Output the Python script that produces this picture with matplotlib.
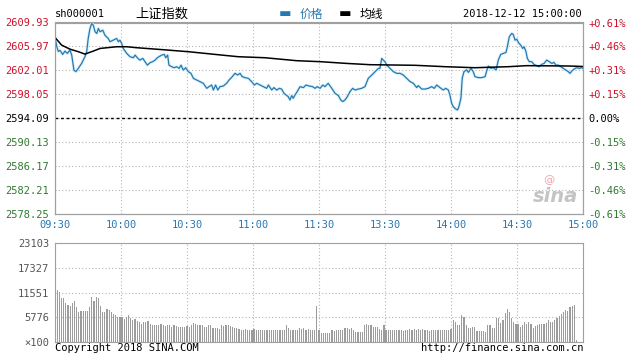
import matplotlib
matplotlib.use('Agg')
import matplotlib.pyplot as plt
import numpy as np

plt.rcParams['font.family'] = ['DejaVu Sans Mono', 'Noto Sans CJK SC']

# 分时价格 (横轴为开盘后的交易分钟数)
price_t = [0, 0.9, 1.5, 2.3, 3.5, 4.5, 5.6, 6.8, 7.6, 8.6,
           9.5, 10.6, 12.1, 13.6, 14.4, 15.1, 15.9, 16.7, 17.4, 18.2,
           19.0, 19.7, 20.5, 21.7, 22.7, 24.2, 25.0, 26.5, 28.0, 28.8,
           29.5, 30.3, 31.0, 32.6, 34.1, 35.6, 36.4, 37.4, 38.6, 39.9,
           40.9, 42.0, 43.2, 44.4, 45.5, 46.5, 48.5, 49.7, 50.3, 51.2,
           51.8, 53.0, 54.2, 55.3, 56.4, 57.3, 58.3, 59.4, 60.6, 61.8,
           62.9, 64.4, 65.9, 67.4, 69.0, 70.0, 71.2, 72.0, 73.0, 74.0,
           75.0, 76.5, 78.0, 79.1, 80.6, 81.8, 83.0, 84.1, 85.1, 86.4,
           87.9, 89.4, 90.6, 91.7, 93.2, 94.7, 96.2, 97.0, 98.5, 99.5,
           100.8, 102.0, 103.0, 104.1, 105.0, 106.0, 106.8, 107.6, 108.3, 109.1,
           110.1, 111.4, 112.9, 114.1, 115.6, 117.1, 118.2, 119.2, 120.5, 121.7,
           122.7, 124.2, 125.8, 127.3, 128.8, 129.9, 130.8, 131.8, 132.9, 134.1,
           135.3, 136.4, 137.9, 139.4, 140.9, 142.4, 144.0, 145.5, 147.0, 147.7,
           148.5, 149.2, 150.0, 150.8, 152.3, 153.8, 155.3, 156.8, 158.3, 159.9,
           161.4, 162.9, 164.4, 165.1, 166.7, 168.2, 169.7, 171.2, 172.4, 173.5,
           175.0, 176.5, 177.6, 178.8, 179.5, 180.3, 181.0, 182.1, 183.0, 183.6,
           184.5, 185.1, 185.9, 187.1, 187.9, 189.1, 190.1, 190.9, 192.4, 194.0,
           195.5, 196.2, 197.0, 198.0, 199.2, 200.5, 201.5, 202.6, 203.8, 205.0,
           205.6, 206.5, 207.6, 208.3, 209.1, 209.9, 210.6, 211.7, 212.6, 213.2,
           214.1, 214.7, 215.6, 216.7, 217.7, 219.0, 220.0, 221.2, 222.3, 223.5,
           224.7, 225.8, 226.8, 227.7, 228.8, 229.9, 231.0, 232.3, 233.3, 234.1,
           234.9, 235.9, 237.1, 238.3, 239.4, 240.0]
price_v = [2607.46, 2605.81, 2605.15, 2605.31, 2604.65, 2605.20, 2604.82, 2605.36, 2604.54, 2602.06,
           2601.80, 2602.34, 2603.16, 2604.27, 2605.10, 2607.29, 2608.94, 2609.77, 2609.48, 2608.40,
           2608.12, 2608.94, 2608.40, 2608.66, 2607.83, 2607.29, 2606.75, 2607.01, 2607.29, 2606.75,
           2607.01, 2606.47, 2605.64, 2604.82, 2604.27, 2604.10, 2604.54, 2604.10, 2603.71, 2603.99,
           2603.45, 2602.88, 2603.28, 2603.45, 2603.71, 2604.10, 2604.54, 2604.65, 2604.10, 2604.54,
           2602.88, 2602.62, 2602.45, 2602.62, 2602.34, 2602.88, 2602.06, 2602.45, 2601.80, 2601.52,
           2600.69, 2600.41, 2600.15, 2599.87, 2599.04, 2599.32, 2599.59, 2598.76, 2599.59, 2598.76,
           2599.32, 2599.42, 2599.87, 2600.41, 2600.97, 2601.52, 2601.24, 2601.52, 2600.97, 2600.81,
           2600.69, 2600.15, 2599.59, 2599.87, 2599.59, 2599.32, 2599.04, 2599.59, 2598.76, 2599.16,
           2598.76, 2599.04, 2598.92, 2598.21, 2597.94, 2597.67, 2597.11, 2597.84, 2597.39, 2597.94,
           2598.50, 2599.32, 2599.16, 2599.59, 2599.42, 2599.32, 2599.04, 2599.32, 2599.04, 2599.59,
           2599.32, 2599.87, 2599.04, 2598.21, 2597.84, 2597.11, 2596.85, 2597.11, 2597.67, 2598.50,
           2599.04, 2598.76, 2598.92, 2599.04, 2599.32, 2600.69, 2601.24, 2601.80, 2602.34, 2602.34,
           2603.99, 2603.71, 2603.45, 2602.88, 2602.34, 2601.80, 2601.52, 2601.52, 2601.24, 2600.69,
           2600.15, 2599.87, 2599.16, 2599.49, 2598.92, 2598.92, 2599.04, 2599.32, 2599.04, 2599.59,
           2599.16, 2598.76, 2599.04, 2598.76, 2597.94, 2596.57, 2596.02, 2595.63, 2595.46, 2596.02,
           2597.39, 2600.69, 2601.80, 2602.10, 2601.68, 2602.34, 2601.80, 2600.97, 2600.81, 2600.81,
           2600.97, 2601.90, 2602.72, 2602.34, 2602.45, 2602.06, 2603.71, 2604.65, 2604.81, 2604.98,
           2605.92, 2607.57, 2608.12, 2607.95, 2607.01, 2607.17, 2606.63, 2606.18, 2605.64, 2605.92,
           2605.10, 2603.99, 2603.45, 2603.45, 2603.00, 2602.79, 2602.62, 2603.00, 2603.16, 2603.71,
           2603.45, 2603.16, 2603.33, 2602.88, 2602.88, 2602.62, 2602.34, 2602.06, 2601.80, 2601.52,
           2601.90, 2602.22, 2602.45, 2602.34, 2602.45, 2602.34]

# 均线
avg_t = [0, 3.0, 6.8, 10.6, 13.6, 17.4, 20.5, 28.0, 32.6, 37.1, 47.7, 60.6, 75.8, 83.3,
         95.5, 109.9, 120.5, 132.6, 143.2, 163.6, 177.3, 190.9, 206.1, 214.4, 234.1, 240.0]
avg_v = [2607.46, 2606.19, 2605.52, 2605.10, 2604.70, 2605.20, 2605.64, 2605.92, 2605.92,
         2605.76, 2605.47, 2605.10, 2604.54, 2604.27, 2604.10, 2603.61, 2603.45, 2603.16,
         2602.95, 2602.85, 2602.62, 2602.45, 2602.62, 2602.79, 2602.73, 2602.65]

# 成交量 (x100), 每分钟一根
volume = [12200, 11700, 10200, 10200, 9200, 8600, 8500, 9100, 9600, 8100,
          7100, 7300, 7300, 7200, 7300, 8100, 10400, 9600, 10600, 10200,
          8500, 6900, 7100, 7700, 7500, 6900, 6500, 6200, 5900, 5800,
          5800, 5400, 5800, 6200, 5500, 5200, 5400, 5000, 4600, 4200,
          4600, 4600, 5000, 4200, 4000, 4000, 3900, 4000, 4200, 3900,
          3700, 3900, 3900, 3600, 3900, 3700, 3600, 3500, 3600, 3600,
          3700, 3500, 4000, 4500, 4200, 3900, 4000, 3900, 3600, 3500,
          3900, 3900, 3200, 3200, 3200, 3100,
          3900, 3700, 4000, 3900, 3800,
          3500, 3300, 3200, 3100, 2900, 2800, 3000, 2700, 2900, 2800,
          3100, 2800, 2800, 2900, 2700, 2800, 2900, 2800, 2700, 2900,
          2800, 2700, 2900, 2800, 2900, 3900, 3300, 2800, 2700, 2900,
          2800, 3300, 3100, 3200, 2900, 3000, 2800, 2700, 2900,
          8400,
          2700, 2100, 2000, 2100, 2000, 2100, 2700, 2600, 2700, 2800,
          2700, 2800, 3200, 3300, 3100, 3200, 2700, 2400, 2300, 2400,
          2300, 4000, 4100, 4000, 3900, 3500, 3400, 3600, 3000, 2900,
          3900, 2900, 2800, 2700, 2800, 2700, 2800, 2700, 2800, 2600,
          2800, 2700, 3000, 2800, 3100, 2900, 3000, 2800, 3000, 2900,
          2800, 2600, 2800, 2700, 2800, 2900, 2700, 2800, 2900, 2800,
          2900, 3000, 5200, 4700, 4000, 3900, 6300, 5900, 3900, 3300,
          3200, 3500, 3500, 2600, 2500, 2600, 2500, 2400, 3900, 3900,
          3300, 3200, 5700, 5700, 4500, 5100, 6800, 7800, 7000, 5700,
          4700, 4100, 4300, 3500, 3900, 4700, 4300, 4700, 4100, 3300,
          3800, 3900, 4100, 4100, 4300, 4500, 5100, 4700, 4700, 5100,
          5700, 6000, 6600, 7000, 7400, 7200, 8200, 8400, 8600, 400]

y_ticks = [2609.93, 2605.97, 2602.01, 2598.05, 2594.09, 2590.13, 2586.17, 2582.21, 2578.25]
pct_labels = ['+0.61%', '+0.46%', '+0.31%', '+0.15%', '0.00%',
              '-0.15%', '-0.31%', '-0.46%', '-0.61%']
x_ticks = [0, 30, 60, 90, 120, 150, 180, 210, 240]
x_labels = ['09:30', '10:00', '10:30', '11:00', '11:30', '13:30', '14:00', '14:30', '15:00']
vol_ticks = [0, 5776, 11551, 17327, 23103]
vol_labels = ['×100', '5776', '11551', '17327', '23103']

RED = '#d0102a'
GREEN = '#2f7a2f'
BLUE = '#2878b0'
GRID = '#b5b5b5'
SPINE = '#a0a0a0'

W, H = 633, 355
fig = plt.figure(figsize=(W / 100, H / 100), dpi=100)
fig.patch.set_facecolor('white')


def box(l, t, r, b):
    return [l / W, 1 - b / H, (r - l) / W, (b - t) / H]


# ---- 价格图 ----
ax = fig.add_axes(box(55, 22.5, 583, 214))
ax.set_xlim(0, 240)
ax.set_ylim(y_ticks[-1], y_ticks[0])
ax.plot(price_t, price_v, color='#d8f1fa', lw=2.2, solid_joinstyle='round', zorder=3)
ax.plot(price_t, price_v, color=BLUE, lw=0.9, zorder=4)
ax.plot(avg_t, avg_v, color='black', lw=1.1, zorder=5)

ax.set_yticks(y_ticks)
ax.set_yticklabels(['%.2f' % v for v in y_ticks], fontsize=7.5)
for lab, v in zip(ax.get_yticklabels(), y_ticks):
    lab.set_color(RED if v > 2594.09 else ('black' if v == 2594.09 else GREEN))
ax.set_xticks(x_ticks)
ax.set_xticklabels(x_labels, fontsize=7.5, color=BLUE)
ax.tick_params(length=0, pad=4)
ax.grid(True, color=GRID, linestyle=(0, (1, 2)), lw=0.8)
ax.axhline(2594.09, color='black', lw=1.0, linestyle=(0, (2, 2)), zorder=2)
for s in ax.spines.values():
    s.set_color(SPINE)

ax2 = ax.twinx()
ax2.set_ylim(ax.get_ylim())
ax2.set_yticks(y_ticks)
ax2.set_yticklabels(pct_labels, fontsize=7.5)
for lab, v in zip(ax2.get_yticklabels(), y_ticks):
    lab.set_color(RED if v > 2594.09 else ('black' if v == 2594.09 else GREEN))
ax2.tick_params(length=0, pad=4)
for s in ax2.spines.values():
    s.set_color(SPINE)

# 水印
ax.text(0.99, 0.04, 'sina', transform=ax.transAxes, ha='right', va='bottom',
        fontsize=14, style='italic', fontweight='bold', color='#c4c4c4',
        family='DejaVu Sans', zorder=1)
ax.text(0.935, 0.15, '@', transform=ax.transAxes, ha='center', va='bottom',
        fontsize=8, color='#f2a0a8', family='DejaVu Sans', zorder=1)

# ---- 成交量 ----
axv = fig.add_axes(box(55, 243, 583, 342))
axv.bar(np.arange(len(volume)), volume, width=0.55, color='#9c9c9c', linewidth=0)
axv.set_xlim(-1, 243)
axv.set_ylim(0, 23103)
axv.set_xticks(np.linspace(-1, 243, 9))
axv.set_xticklabels([])
axv.set_yticks(vol_ticks)
axv.set_yticklabels(vol_labels, fontsize=7.5, color='#555555')
axv.tick_params(length=0, pad=4)
axv.grid(True, color=GRID, linestyle=(0, (1, 2)), lw=0.8)
axv.set_axisbelow(True)
for s in axv.spines.values():
    s.set_color(SPINE)

# ---- 标题与文字 ----
ty = 1 - 14 / H
fig.text(55 / W, ty, 'sh000001', fontsize=7.5, va='center', ha='left')
fig.text(162 / W, ty, '上证指数', fontsize=9.5, va='center', ha='center',
         family=['Noto Sans CJK SC', 'DejaVu Sans'])
fig.text(285 / W, ty, '▬', fontsize=9.5, va='center', ha='center', color=BLUE,
         family='DejaVu Sans')
fig.text(300 / W, ty, '价格', fontsize=8.5, va='center', ha='left', color=BLUE,
         family=['Noto Sans CJK SC', 'DejaVu Sans'])
fig.text(345 / W, ty, '▬', fontsize=9.5, va='center', ha='center', color='black',
         family='DejaVu Sans')
fig.text(360 / W, ty, '均线', fontsize=8.5, va='center', ha='left',
         family=['Noto Sans CJK SC', 'DejaVu Sans'])
fig.text(582 / W, ty, '2018-12-12 15:00:00', fontsize=7.5, va='center', ha='right')

by = 1 - 348 / H
fig.text(55 / W, by, 'Copyright 2018 SINA.COM', fontsize=7.5, va='center', ha='left')
fig.text(583 / W, by, 'http://finance.sina.com.cn', fontsize=7.5, va='center', ha='right')

fig.savefig('out.png', dpi=100)
